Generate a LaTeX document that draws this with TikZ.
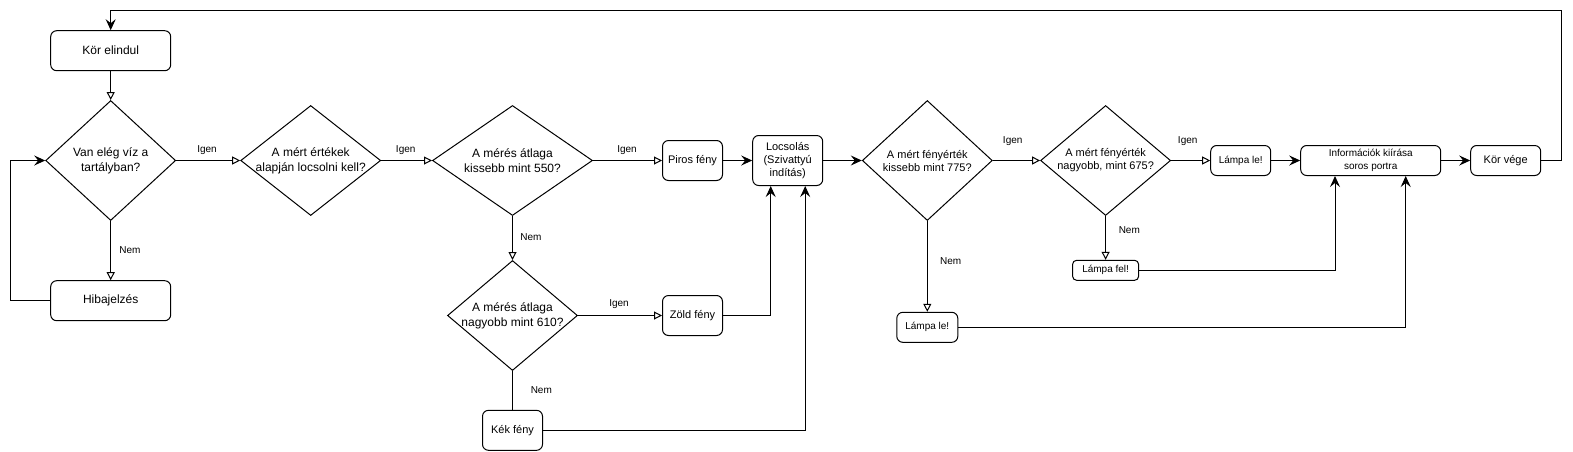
\documentclass[tikz,border=0pt]{standalone}
\usepackage{fontspec}
\setmainfont{Liberation Sans}
\usetikzlibrary{shapes.geometric,arrows.meta,calc}
\begin{document}
\begin{tikzpicture}[x=1pt,y=-1pt,
  fs12/.style={font=\fontsize{12}{15}\selectfont},
  fs11/.style={font=\fontsize{11}{13}\selectfont},
  fs10/.style={font=\fontsize{10}{13}\selectfont},
  base/.style={draw, line width=1pt, align=center, inner sep=0pt, fill=white},
  box/.style={base, rectangle, rounded corners=6pt},
  dia/.style={base, diamond},
  dtext/.style={align=center, inner sep=0pt},
  lbl/.style={fs10, inner sep=0pt},
  conn/.style={line width=1pt},
  opena/.style={conn, -{Triangle[open, length=8pt, width=8pt, fill=white]}},
  filla/.style={conn, -{Stealth[length=11pt, width=10pt, inset=4pt]}},
]
\useasboundingbox (0,0) rectangle (1573,451);

% nodes
\node[box, fs12, minimum width=120pt, minimum height=40pt] (k1) at (110.7,50.7) {Kör elindul};
\node[dia, minimum width=130pt, minimum height=120pt,
  label={[dtext,fs12]center:Van elég víz a\\tartályban?}] (d1) at (110.7,160.5) {};
\node[box, fs12, minimum width=120pt, minimum height=40pt] (hib) at (110.7,300.7) {Hibajelzés};
\node[dia, minimum width=140pt, minimum height=110pt,
  label={[dtext,fs12]center:A mért értékek\\alapján locsolni kell?}] (d2) at (310.7,160.5) {};
\node[dia, minimum width=160pt, minimum height=110pt,
  label={[dtext,fs12]center:A mérés átlaga\\kissebb mint 550?}] (d3) at (512.5,160.5) {};
\node[dia, minimum width=130pt, minimum height=110pt,
  label={[dtext,fs12]center:A mérés átlaga\\nagyobb mint 610?}] (d4) at (512.5,315.5) {};
\node[box, fs11, minimum width=60pt, minimum height=40pt] (piros) at (692.5,160.5) {Piros fény};
\node[box, fs11, minimum width=60pt, minimum height=40pt] (zold) at (692.5,315.5) {Zöld fény};
\node[box, fs11, minimum width=60pt, minimum height=40pt] (kek) at (512.5,430.3) {Kék fény};
\node[box, fs11, minimum width=70pt, minimum height=50pt] (locs) at (787.7,160.5) {Locsolás\\(Szivattyú\\indítás)};
\node[dia, minimum width=130pt, minimum height=120pt,
  label={[dtext,fs11]center:A mért fényérték\\kissebb mint 775?}] (d5) at (927.3,160.5) {};
\node[dia, minimum width=130pt, minimum height=110pt,
  label={[dtext,fs11]center:A mért fényérték\\nagyobb, mint 675?}] (d6) at (1105.6,160.5) {};
\node[box, fs10, minimum width=60pt, minimum height=30pt] (ll1) at (1240.7,160.5) {Lámpa le!};
\node[box, fs10, minimum width=66pt, minimum height=20pt, rounded corners=4pt] (lf) at (1105.6,270.3) {Lámpa fel!};
\node[box, fs10, minimum width=61pt, minimum height=30pt] (ll2) at (927.3,327.3) {Lámpa le!};
\node[box, fs10, minimum width=140pt, minimum height=30pt] (info) at (1370.7,160.5) {Információk kiírása\\soros portra};
\node[box, fs11, minimum width=70pt, minimum height=30pt] (kv) at (1505.7,160.5) {Kör vége};

% connectors
\draw[opena] (k1) -- (d1);
\draw[opena] (d1) -- (d2);
\draw[opena] (d1) -- (hib);
\draw[filla] (hib.west) -- ++(-40,0) |- (d1.west);
\draw[opena] (d2) -- (d3);
\draw[opena] (d3) -- (piros);
\draw[opena] (d3) -- (d4);
\draw[opena] (d4) -- (zold);
\draw[conn] (d4) -- (kek);
\draw[filla] (piros) -- (locs);
\draw[filla] (zold.east) -| ($(locs.south)+(-17,0)$);
\draw[filla] (kek.east) -| ($(locs.south)+(17.5,0)$);
\draw[filla] (locs) -- (d5);
\draw[opena] (d5) -- (d6);
\draw[opena] (d6) -- (ll1);
\draw[opena] (d5) -- (ll2);
\draw[opena] (d6) -- (lf);
\draw[filla] (ll1) -- (info);
\draw[filla] (info) -- (kv);
\draw[filla] (lf.east) -| ($(info.south)+(-35.7,0)$);
\draw[filla] (ll2.east) -| ($(info.south)+(35,0)$);
\draw[filla] (kv.east) -- ++(20,0) -- ++(0,-150) -| (k1.north);

% labels
\node[lbl] (l1) at (207,150) {Igen};
\node[lbl] (l2) at (130,250) {Nem};
\node[lbl] (l3) at (405.7,150) {Igen};
\node[lbl] (l4) at (627,150) {Igen};
\node[lbl] (l5) at (531,237) {Nem};
\node[lbl] (l6) at (619,304) {Igen};
\node[lbl] (l7) at (541.3,390) {Nem};
\node[lbl] (l8) at (1012.7,140.7) {Igen};
\node[lbl] (l9) at (1187.7,140.7) {Igen};
\node[lbl] (l10) at (1129.3,230) {Nem};
\node[lbl] (l11) at (950.7,260.7) {Nem};
\end{tikzpicture}
\end{document}
